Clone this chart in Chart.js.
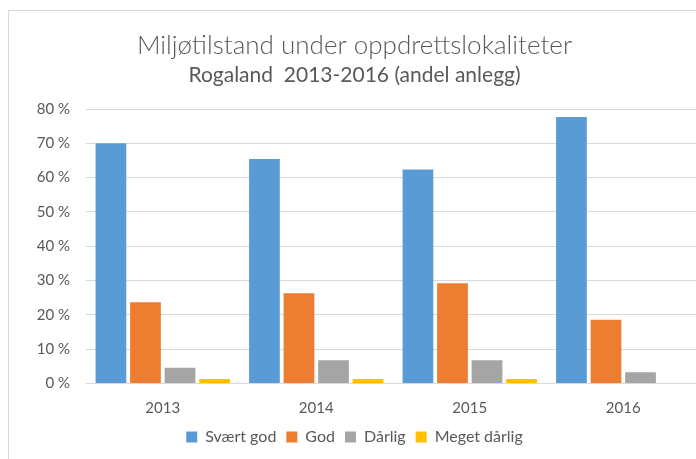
<!DOCTYPE html>
<html>
<head>
<meta charset="utf-8">
<script src="https://cdn.jsdelivr.net/npm/chart.js@4"></script>
<style>
  html, body { margin: 0; padding: 0; background: #fff; overflow: hidden; }
  #wrap { position: absolute; left: 8px; top: 10px; width: 704px; height: 449px;
          border-left: 1px solid #d9d9d9; border-top: 1px solid #d9d9d9; }
</style>
</head>
<body>
<div id="wrap"><canvas id="chart" width="704" height="449"></canvas></div>
<script>
const years = ['2013', '2014', '2015', '2016'];
const seriesNames = ['Svært god', 'God', 'Dårlig', 'Meget dårlig'];
const svaertGod = [70.0, 65.4, 62.4, 77.7];
const god = [23.7, 26.3, 29.2, 18.6];
const daarlig = [4.6, 6.8, 6.8, 3.3];
const megetDaarlig = [1.3, 1.3, 1.3, 0];
const yTicks = [0, 10, 20, 30, 40, 50, 60, 70, 80];

const colors = ['#5B9BD5', '#ED7D31', '#A5A5A5', '#FFC000'];
const textColor = '#595959';
const fontFamily = 'Lato, "Open Sans", sans-serif';

const ctx = document.getElementById('chart').getContext('2d');
const values = [svaertGod, god, daarlig, megetDaarlig];

new Chart(ctx, {
    type: 'bar',
    data: {
        labels: years,
        datasets: values.map((v, i) => ({
            label: seriesNames[i],
            data: v,
            backgroundColor: colors[i],
            borderWidth: 0,
            categoryPercentage: 0.9,
            barPercentage: 0.89,
        })),
    },
    options: {
        responsive: false,
        animation: false,
        layout: { padding: { left: 0, right: 13, bottom: 5 } },
        scales: {
            x: {
                grid: { display: false },
                border: { display: false },
                afterFit: scale => { scale.height = 35.5; },
                ticks: { color: textColor, font: { family: fontFamily, size: 15 }, padding: 8 },
            },
            y: {
                min: 0,
                max: 80,
                afterBuildTicks: scale => { scale.ticks = yTicks.map(v => ({ value: v })); },
                afterFit: scale => { scale.width = 77; },
                grid: { color: '#d9d9d9', drawTicks: false },
                border: { display: false },
                ticks: {
                    color: textColor,
                    font: { family: fontFamily, size: 15 },
                    padding: 16,
                    callback: v => v + ' %',
                },
            },
        },
        plugins: {
            title: {
                display: true,
                text: 'Miljøtilstand under oppdrettslokaliteter',
                color: textColor,
                font: { family: fontFamily, size: 26, weight: 300 },
                padding: { top: 19, bottom: 0 },
            },
            subtitle: {
                display: true,
                text: 'Rogaland  2013-2016 (andel anlegg)',
                color: textColor,
                font: { family: fontFamily, size: 21, weight: 'normal' },
                padding: { top: 1, bottom: 21.6 },
            },
            legend: {
                position: 'bottom',
                labels: {
                    color: textColor,
                    font: { family: fontFamily, size: 16 },
                    boxWidth: 11,
                    boxHeight: 11,
                    padding: 10,
                },
            },
            tooltip: { enabled: false },
        },
    },
});
</script>
</body>
</html>
